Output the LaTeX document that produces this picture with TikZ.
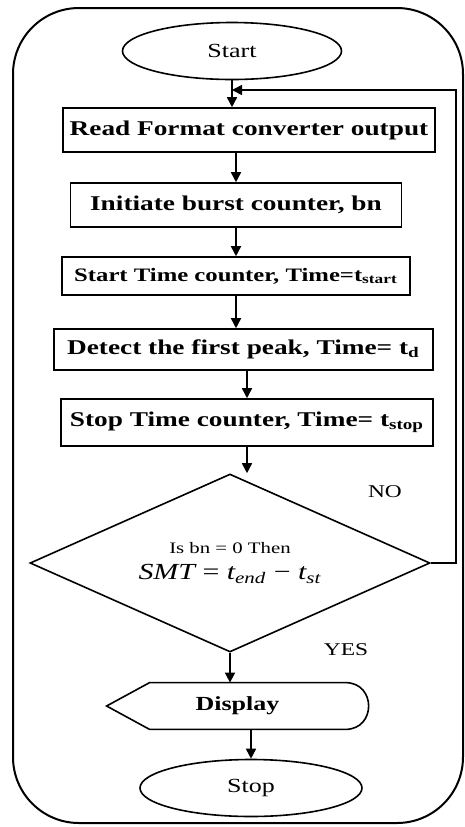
\documentclass[tikz,border=0pt]{standalone}
\usepackage{fontspec}
\setmainfont{Liberation Serif}[FakeStretch=1.3]
\usepackage{tikz}
\usetikzlibrary{positioning,arrows.meta,calc,shapes.geometric}

\begin{document}
\begin{tikzpicture}[x=0.5pt, y=-0.5pt, >={Triangle[length=5pt,width=5pt]},
    font=\fontsize{10}{12}\selectfont,
    procbox/.style={draw, line width=0.8pt, inner sep=0pt, font=\bfseries\fontsize{10.5}{12}\selectfont},
    termnode/.style={draw, ellipse, line width=0.8pt, inner sep=0pt},
    decide/.style={draw, diamond, line width=0.8pt, inner sep=0pt, aspect=2.25, align=center},
    flow/.style={->, line width=0.8pt}]
        % Burst timing flow: read, count, time the first peak, test bn and loop back.
        \useasboundingbox (0,0) rectangle (465,827);
        \draw[line width=1pt, rounded corners=33pt] (13,8) rectangle (463,823);

        \node[termnode, minimum width=109.5pt, minimum height=28.5pt] (start) at (232,51) {Start};
        \node[procbox, minimum width=186pt, minimum height=22pt] (read) at (249,130) {Read Format converter output};
        \node[procbox, minimum width=165.5pt, minimum height=22pt] (burst) at (236,205) {Initiate burst counter, bn};
        \node[procbox, minimum width=174pt, minimum height=19pt, font=\bfseries\fontsize{9.5}{11}\selectfont] (tstart) at (236,276) {Start Time counter, Time=t\textsubscript{start}};
        \node[procbox, minimum width=189.5pt, minimum height=20.5pt] (peak) at (243.5,349.5) {Detect the first peak, Time= t\textsubscript{d}};
        \node[procbox, minimum width=186pt, minimum height=23.5pt] (tstop) at (247,422.5) {Stop Time counter, Time= t\textsubscript{stop}};
        \node[decide, minimum width=200pt, minimum height=89pt] (check) at (230,563)
          {{\fontsize{8}{10}\selectfont Is bn = 0 Then}\\[1pt]
           {\fontsize{11.5}{14}\selectfont\itshape SMT \upshape= \itshape t\textsubscript{end} \upshape{\textminus} \itshape t\textsubscript{st}}};
        \node[minimum width=130.5pt, minimum height=23pt, inner sep=0pt, font=\bfseries] (disp) at (237.5,706) {Display};
        \draw[line width=0.8pt] (disp.west) -- ($(disp.north west)+(43,0)$) -- ($(disp.north east)+(-23,0)$)
          .. controls +(31,0) and +(31,0) .. ($(disp.south east)+(-23,0)$) -- ($(disp.south west)+(43,0)$) -- cycle;
        \node[termnode, minimum width=111pt, minimum height=28.5pt] (stop) at (251,788) {Stop};

        \node[font=\fontsize{9}{11}\selectfont] (no) at (385,492) {NO};
        \node[font=\fontsize{9}{11}\selectfont] (yes) at (346,650) {YES};
        \coordinate (back) at (456,90);

        \draw[flow] (start.south) -- (start.south |- read.north);
        \draw[flow] (burst.north |- read.south) -- (burst.north);
        \draw[flow] (burst.south) -- (burst.south |- tstart.north);
        \draw[flow] (tstart.south) -- (tstart.south |- peak.north);
        \draw[flow] (tstop.north |- peak.south) -- (tstop.north);
        \draw[flow] (tstop.south) -- (tstop.south |- check.north);
        \draw[flow] (check.south) -- (check.south |- disp.north);
        \draw[flow] (stop.north |- disp.south) -- (stop.north);
        \draw[flow] (check.east) -| (back) -- (start.south |- back);
      \end{tikzpicture}
\end{document}
